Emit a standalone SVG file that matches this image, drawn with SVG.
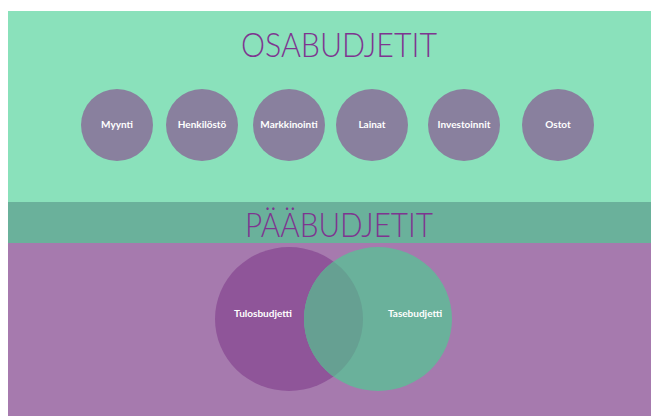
<svg xmlns="http://www.w3.org/2000/svg" width="651" height="416" viewBox="0 0 651 416">
<style>
.title{font-family:Lato,"Open Sans",sans-serif;font-weight:300;font-size:33px;fill:#7e3590;text-anchor:middle}
.sub{fill:#89809e}
.lbl{font-family:Lato,"Open Sans",sans-serif;font-weight:700;font-size:10px;fill:#ffffff;text-anchor:middle}
</style>
<defs>
<clipPath id="leftClip"><ellipse cx="289" cy="319" rx="74" ry="72"/></clipPath>
</defs>
<rect width="651" height="416" fill="#ffffff"/>
<rect x="8" y="11" width="643" height="191" fill="#8ae1bb"/>
<rect x="8" y="202" width="643" height="41" fill="#6ab19b"/>
<rect x="8" y="243" width="643" height="173" fill="#a67aae"/>
<text class="title" x="339" y="57" textLength="196" lengthAdjust="spacingAndGlyphs">OSABUDJETIT</text>
<text class="title" x="339" y="237" textLength="188" lengthAdjust="spacingAndGlyphs">PÄÄBUDJETIT</text>
<g id="myynti"><circle class="sub" cx="117" cy="125" r="36"/><text class="lbl" x="117" y="128">Myynti</text></g>
<g id="henkilosto"><circle class="sub" cx="202" cy="125" r="36"/><text class="lbl" x="202" y="128">Henkilöstö</text></g>
<g id="markkinointi"><circle class="sub" cx="289" cy="125" r="36"/><text class="lbl" x="289" y="128">Markkinointi</text></g>
<g id="lainat"><circle class="sub" cx="372" cy="125" r="36"/><text class="lbl" x="372" y="128">Lainat</text></g>
<g id="investoinnit"><circle class="sub" cx="464" cy="125" r="36"/><text class="lbl" x="464" y="128">Investoinnit</text></g>
<g id="ostot"><circle class="sub" cx="558" cy="125" r="36"/><text class="lbl" x="558" y="128">Ostot</text></g>
<g id="tulosbudjetti"><ellipse cx="289" cy="319" rx="74" ry="72" fill="#8f5599"/><text class="lbl" x="263" y="317">Tulosbudjetti</text></g>
<g id="tasebudjetti"><ellipse cx="378" cy="319" rx="74" ry="72" fill="#6ab19b"/><ellipse cx="378" cy="319" rx="74" ry="72" fill="#66a092" clip-path="url(#leftClip)"/><text class="lbl" x="415" y="317">Tasebudjetti</text></g>
<g id="connectors"/>
</svg>
